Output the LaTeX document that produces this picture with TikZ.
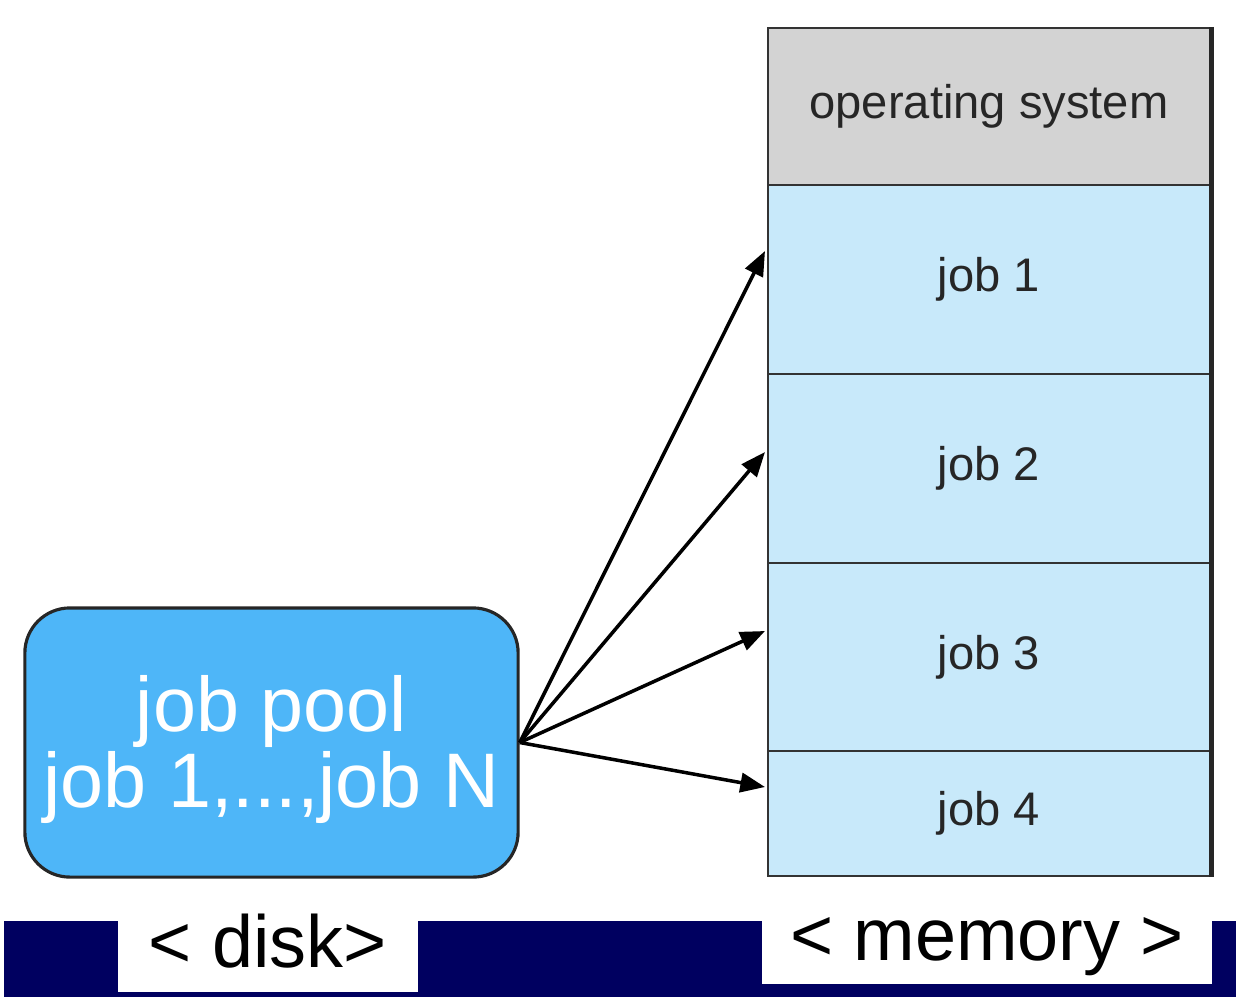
\documentclass[tikz,border=0pt]{standalone}
\usepackage{fontspec}
\setmainfont{Liberation Sans}
\usepackage{tikz}
\usetikzlibrary{arrows.meta, positioning}
\definecolor{navy}{RGB}{0,0,96}
\definecolor{poolblue}{RGB}{78,182,248}
\definecolor{jobblue}{RGB}{200,233,250}
\definecolor{osgrey}{RGB}{211,211,211}
\def\txt{black!85}
\tikzstyle{mem}=[draw=black!80, line width=0.6pt, rectangle, minimum width=4.42cm,
                 fill=jobblue, text=\txt, font=\fontsize{13.4}{15}\selectfont, inner sep=0pt]
\tikzstyle{pool}=[draw=black!85, line width=0.9pt, rectangle, rounded corners=0.45cm,
                  fill=poolblue, text=white, align=center, minimum width=4.93cm,
                  minimum height=2.69cm, text depth=0.6pt, font=\fontsize{22}{21.6}\selectfont]
\tikzstyle{tag}=[fill=white, inner sep=0pt, anchor=base, font=\fontsize{21}{21}\selectfont]
\tikzstyle{arr}=[-{Triangle[length=7pt,width=5.5pt]}, line width=1pt]

\begin{document}
\begin{tikzpicture}[x=0.01cm, y=-0.01cm]
  \useasboundingbox (0,0) rectangle (1236,1002);

  % memory
  \node[mem, fill=osgrey, minimum height=1.57cm] (os) at (989,106.5) {operating system};
  \foreach \i/\y/\h in {1/279.5/1.89,2/468.5/1.89,3/657/1.88,4/813.5/1.25}{
    \node[mem, minimum height=\h cm] (job\i) at (989,\y) {job \i};
  }
  \draw[line width=1.4pt, black!85] (os.north east) -- (job4.south east);

  % disk
  \node[pool] (pool) at (271.5,742.5) {job pool\\job 1,...,job N};

  \coordinate (in1) at (765,251);
  \coordinate (in2) at (765,452);
  \coordinate (in3) at (765,631);
  \coordinate (in4) at (765,787);
  \foreach \j in {1,2,3,4}
    \draw[arr] (pool.east) -- (in\j);

  % bottom bar
  \fill[navy] (4,921) rectangle (1236,997);
  \node[tag, minimum width=3cm, text height=0.46cm, text depth=0.25cm] (disk) at (268,967) {< disk>};
  \node[tag, minimum width=4.5cm, text height=0.5cm, text depth=0.24cm] (memory) at (987,960) {< memory >};

\end{tikzpicture}
\end{document}
